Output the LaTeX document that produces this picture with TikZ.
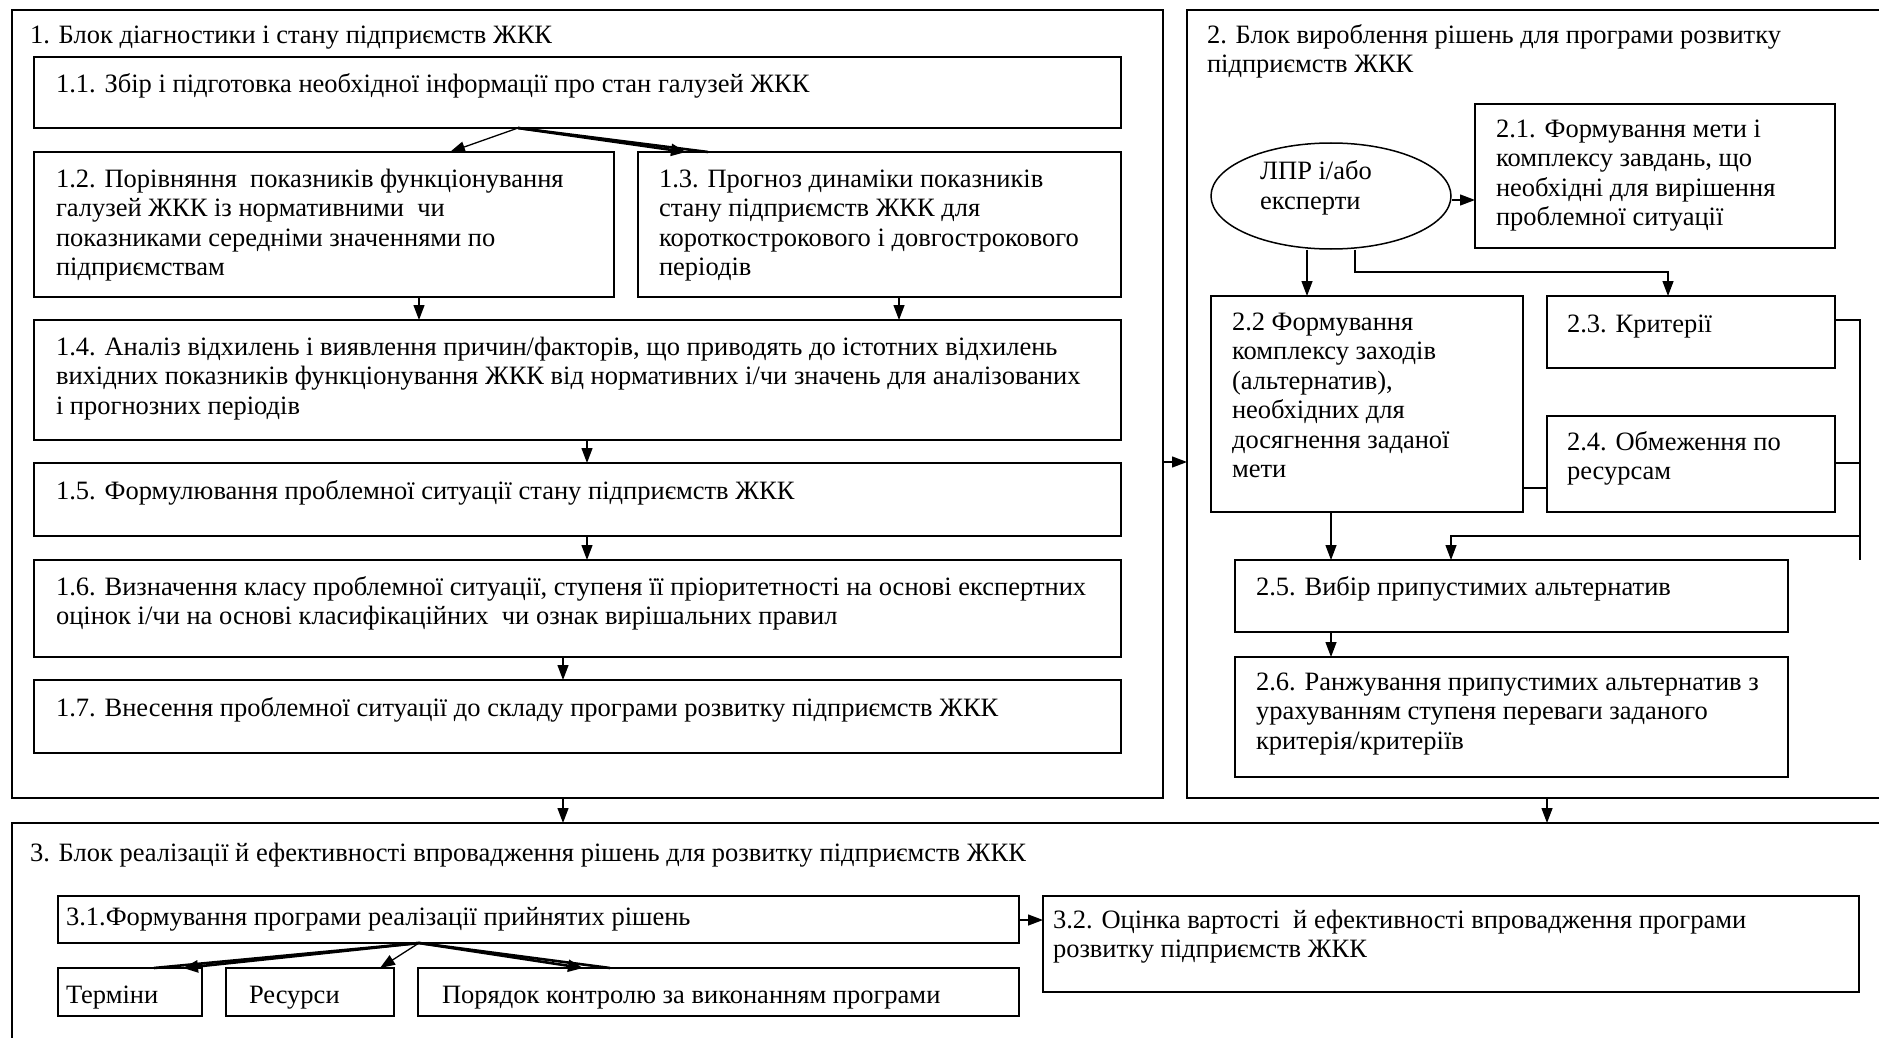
\documentclass[tikz,border=0pt]{standalone}
\usepackage{fontspec}
\setmainfont{Liberation Serif}
\usetikzlibrary{arrows.meta,shapes.geometric,calc}
\tikzset{
  box/.style={draw, line width=1.5pt, anchor=north west, inner sep=0pt, outer sep=0pt},
  conn/.style={line width=1.3pt},
  arr/.style={line width=1.3pt, -{Triangle[length=15pt,width=11pt]}},
  tharr/.style={line width=2.6pt, -{Triangle[length=15pt,width=12pt]}},
  thline/.style={line width=2.6pt},
}
% #1 name, #2 x1, #3 y1, #4 x2, #5 y2, #6 left pad, #7 first baseline offset, #8 text
\newcommand{\bx}[8]{\node[box] (#1) at (#2,#3) {\parbox[c][\dimexpr #5pt-#3pt\relax][t]{\dimexpr #4pt-#2pt\relax}{\vspace*{\dimexpr #7pt-20.65pt\relax}\leftskip=#6pt\rightskip=-300pt plus 1fil\parindent=0pt\strut #8}};}
\begin{document}
\begin{tikzpicture}[x=1pt,y=-1pt,font=\fontsize{26.5}{29.5}\selectfont]
\useasboundingbox (0,0) rectangle (1879,1038);
% outer blocks
\bx{blk1}{12}{10}{1163}{798}{18}{33}{1. Блок діагностики і стану підприємств ЖКК}
\bx{blk2}{1187}{10}{1895}{798}{20}{33}{2. Блок вироблення рішень для програми розвитку\\підприємств ЖКК}
\bx{blk3}{12}{823}{1895}{1050}{18}{38}{3. Блок реалізації й ефективності впровадження рішень для розвитку підприємств ЖКК}
% block 1
\bx{b11}{34}{57}{1121}{128}{22}{36}{1.1. Збір і підготовка необхідної інформації про стан галузей ЖКК}
\bx{b12}{34}{152}{614}{297}{22}{35}{1.2. Порівняння\ \ показників функціонування\\галузей ЖКК із нормативними\ \ чи\\показниками середніми значеннями по\\підприємствам}
\bx{b13}{638}{152}{1121}{297}{21}{35}{1.3. Прогноз динаміки показників\\стану підприємств ЖКК для\\короткострокового і довгострокового\\періодів}
\bx{b14}{34}{320}{1121}{440}{22}{35}{1.4. Аналіз відхилень і виявлення причин/факторів, що приводять до істотних відхилень\\вихідних показників функціонування ЖКК від нормативних і/чи значень для аналізованих\\і прогнозних періодів}
\bx{b15}{34}{463}{1121}{536}{22}{36}{1.5. Формулювання проблемної ситуації стану підприємств ЖКК}
\bx{b16}{34}{560}{1121}{657}{22}{35}{1.6. Визначення класу проблемної ситуації, ступеня її пріоритетності на основі експертних\\оцінок і/чи на основі класифікаційних\ \ чи ознак вирішальних правил}
\bx{b17}{34}{680}{1121}{753}{22}{36}{1.7. Внесення проблемної ситуації до складу програми розвитку підприємств ЖКК}
% block 2
\node[draw, ellipse, line width=1.5pt, minimum width=240pt, minimum height=106pt, inner sep=0pt, align=left] (ell) at (1331,196) {ЛПР і/або\hspace*{30pt}\\експерти\rule[-22pt]{0pt}{0pt}};
\bx{b21}{1475}{104}{1835}{248}{21}{33}{2.1. Формування мети і\\комплексу завдань, що\\необхідні для вирішення\\проблемної ситуації}
\bx{b22}{1211}{296}{1523}{512}{21}{34}{2.2 Формування\\комплексу заходів\\(альтернатив),\\необхідних для\\досягнення заданої\\мети}
\bx{b23}{1547}{296}{1835}{368}{20}{36}{2.3. Критерії}
\bx{b24}{1547}{416}{1835}{512}{20}{34}{2.4. Обмеження по\\ресурсам}
\bx{b25}{1235}{560}{1788}{632}{21}{35}{2.5. Вибір припустимих альтернатив}
\bx{b26}{1235}{657}{1788}{777}{21}{33}{2.6. Ранжування припустимих альтернатив з\\урахуванням ступеня переваги заданого\\критерія/критеріїв}
% block 3
\bx{b31}{58}{896}{1019}{943}{8}{29}{3.1.Формування програми реалізації прийнятих рішень}
\bx{b32}{1043}{896}{1859}{992}{10}{32}{3.2. Оцінка вартості\ \ й ефективності впровадження програми\\розвитку підприємств ЖКК}
\bx{bterm}{58}{968}{202}{1016}{8}{35}{Терміни}
\bx{bres}{226}{968}{394}{1016}{23}{35}{Ресурси}
\bx{bpor}{418}{968}{1019}{1016}{24}{35}{Порядок контролю за виконанням програми}
% connectors block 1
\draw[arr] (518,0 |- b11.south) -- (450,0 |- b12.north);
\draw[thline] (518,0 |- b11.south) -- (708,0 |- b13.north);
\draw[tharr] (518,0 |- b11.south) -- (686,0 |- b13.north);
\draw[arr] (419,0 |- b12.south) -- (419,0 |- b14.north);
\draw[arr] (899,0 |- b13.south) -- (899,0 |- b14.north);
\draw[arr] (587,0 |- b14.south) -- (587,0 |- b15.north);
\draw[arr] (587,0 |- b15.south) -- (587,0 |- b16.north);
\draw[arr] (563,0 |- b16.south) -- (563,0 |- b17.north);
% between blocks
\draw[arr] (blk1.east |- 0,462) -- (blk2.west |- 0,462);
\draw[arr] (563,0 |- blk1.south) -- (563,0 |- blk3.north);
\draw[arr] (1547,0 |- blk2.south) -- (1547,0 |- blk3.north);
% connectors block 2
\draw[arr] (ell.east |- 0,200) -- (b21.west |- 0,200);
\draw[arr] (1307,0 |- ell.south) -- (1307,0 |- b22.north);
\draw[arr] (1355,0 |- ell.south) -- (1355,272) -- (1668,272) -- (1668,0 |- b23.north);
\draw[conn] (b22.east |- 0,488) -- (b24.west |- 0,488);
\coordinate (rbus) at (1860,560);
\draw[conn] (b23.east |- 0,320) -- (1860,320) -- (rbus);
\draw[conn] (b24.east |- 0,463) -- (1860,463);
\draw[arr] (1860,536) -- (1451,536) -- (1451,0 |- b25.north);
\draw[arr] (1331,0 |- b22.south) -- (1331,0 |- b25.north);
\draw[arr] (1331,0 |- b25.south) -- (1331,0 |- b26.north);
% connectors block 3
\draw[arr] (b31.east |- 0,920) -- (b32.west |- 0,920);
\draw[thline] (419,0 |- b31.south) -- (154,0 |- bterm.north);
\draw[tharr] (419,0 |- b31.south) -- (183,0 |- bterm.north);
\draw[arr] (419,0 |- b31.south) -- (380,0 |- bres.north);
\draw[thline] (419,0 |- b31.south) -- (610,0 |- bpor.north);
\draw[tharr] (419,0 |- b31.south) -- (583,0 |- bpor.north);
\end{tikzpicture}
\end{document}
